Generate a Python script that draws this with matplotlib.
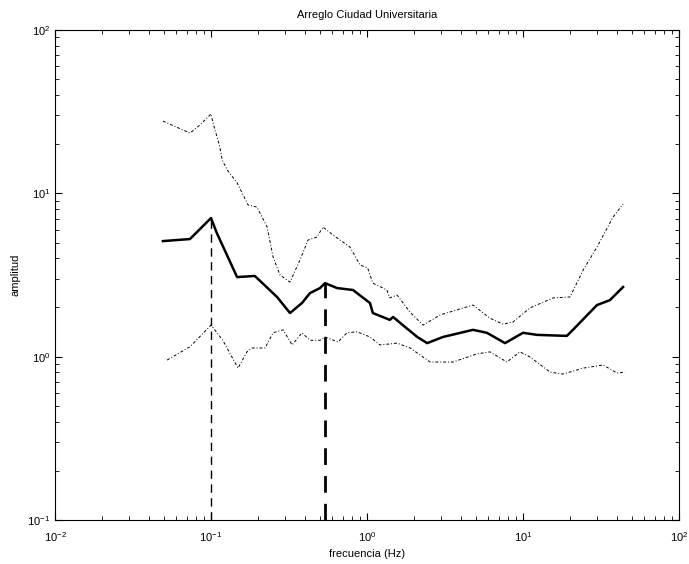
import matplotlib
matplotlib.use("Agg")
import matplotlib.pyplot as plt
from matplotlib.ticker import LogLocator, NullFormatter, FixedLocator

plt.rcParams['font.family'] = ['Liberation Sans', 'DejaVu Sans']
plt.rcParams['mathtext.fontset'] = 'custom'
plt.rcParams['mathtext.rm'] = 'Liberation Sans'

# Mean H/V amplitude spectrum
mean_freq = [0.0492, 0.0733, 0.1, 0.109, 0.147, 0.191, 0.265, 0.321, 0.383, 0.431,
             0.500, 0.538, 0.643, 0.813, 1.045, 1.09, 1.40, 1.47, 1.63, 2.10, 2.43,
             3.07, 4.78, 5.87, 7.67, 10.0, 12.3, 19.1, 20.9, 29.8, 36.1, 43.8]
mean_amp = [5.10, 5.25, 7.06, 5.71, 3.07, 3.12, 2.32, 1.85, 2.13, 2.45,
            2.63, 2.82, 2.63, 2.56, 2.13, 1.85, 1.68, 1.75, 1.61, 1.32, 1.21,
            1.32, 1.46, 1.40, 1.21, 1.40, 1.36, 1.34, 1.46, 2.07, 2.22, 2.67]

# Mean + one standard deviation
upper_freq = [0.0492, 0.0733, 0.0849, 0.1, 0.103, 0.114, 0.118, 0.127, 0.147, 0.173,
              0.197, 0.229, 0.250, 0.277, 0.321, 0.372, 0.419, 0.478, 0.522, 0.605,
              0.778, 0.902, 1.01, 1.09, 1.34, 1.40, 1.56, 1.89, 2.29, 2.94, 4.78,
              6.14, 7.45, 8.63, 11.1, 15.6, 20.0, 24.3, 29.8, 37.8, 43.8]
upper_amp = [27.7, 23.4, 26.2, 30.6, 27.0, 19.2, 16.0, 13.9, 11.6, 8.48,
             8.24, 6.22, 4.07, 3.16, 2.86, 3.91, 5.18, 5.40, 6.22, 5.56,
             4.69, 3.64, 3.49, 2.82, 2.56, 2.29, 2.38, 1.87, 1.56, 1.80, 2.07,
             1.72, 1.58, 1.63, 1.99, 2.29, 2.32, 3.39, 4.69, 7.16, 8.60]

# Mean - one standard deviation
lower_freq = [0.0523, 0.0733, 0.1, 0.119, 0.149, 0.170, 0.183, 0.222, 0.250, 0.290,
              0.331, 0.383, 0.431, 0.500, 0.538, 0.652, 0.744, 0.863, 1.045, 1.21,
              1.56, 1.89, 2.54, 3.56, 5.07, 6.14, 7.88, 9.57, 11.1, 14.9, 18.0,
              24.3, 32.6, 40.1, 45.1]
lower_amp = [0.953, 1.15, 1.56, 1.26, 0.851, 1.07, 1.13, 1.13, 1.40, 1.46,
             1.18, 1.40, 1.26, 1.26, 1.32, 1.23, 1.40, 1.42, 1.32, 1.18,
             1.21, 1.13, 0.927, 0.927, 1.04, 1.07, 0.927, 1.07, 0.995, 0.805, 0.782,
             0.851, 0.889, 0.794, 0.805]

# Picked spectral peaks
peak_freq = [0.1, 0.538]
peak_amp = [7.06, 2.82]
peak_width = [1.0, 2.0]

fig = plt.figure(figsize=(6.89, 5.64), dpi=100)
ax = fig.add_axes([55 / 689, 44 / 564, 624 / 689, 490 / 564])

ax.plot(upper_freq, upper_amp, color='black', lw=0.7, ls=(0, (3, 2, 1, 2)))
ax.plot(lower_freq, lower_amp, color='black', lw=0.7, ls=(0, (3, 2, 1, 2)))
ax.plot(mean_freq, mean_amp, color='black', lw=1.8)

ymin, ymax = 0.1, 100
for f, a, w in zip(peak_freq, peak_amp, peak_width):
    ax.plot([f, f], [ymin, a], color='black', lw=w, ls=(0, (6, 4)))

ax.set_xscale('log')
ax.set_yscale('log')
ax.set_xlim(0.01, 100)
ax.set_ylim(ymin, ymax)

ax.xaxis.set_major_locator(FixedLocator([0.01, 0.1, 1, 10, 100]))
ax.set_xticklabels([r'$10^{-2}$', r'$10^{-1}$', r'$10^{0}$', r'$10^{1}$', r'$10^{2}$'])
ax.yaxis.set_major_locator(FixedLocator([0.1, 1, 10, 100]))
ax.set_yticklabels([r'$10^{-1}$', r'$10^{0}$', r'$10^{1}$', r'$10^{2}$'])
ax.xaxis.set_minor_locator(LogLocator(base=10, subs=range(2, 10)))
ax.yaxis.set_minor_locator(LogLocator(base=10, subs=range(2, 10)))
ax.xaxis.set_minor_formatter(NullFormatter())
ax.yaxis.set_minor_formatter(NullFormatter())

ax.tick_params(which='both', direction='in', top=True, right=True, labelsize=8)
ax.tick_params(which='major', length=5, width=0.8)
ax.tick_params(which='minor', length=3, width=0.6)
ax.tick_params(axis='x', which='major', pad=7)
for s in ax.spines.values():
    s.set_linewidth(0.8)

ax.set_title('Arreglo Ciudad Universitaria', fontsize=8, pad=9)
ax.set_xlabel('frecuencia (Hz)', fontsize=8, labelpad=4)
ax.set_ylabel('amplitud', fontsize=8, labelpad=5)

fig.savefig('out.png', dpi=100, facecolor='white')
